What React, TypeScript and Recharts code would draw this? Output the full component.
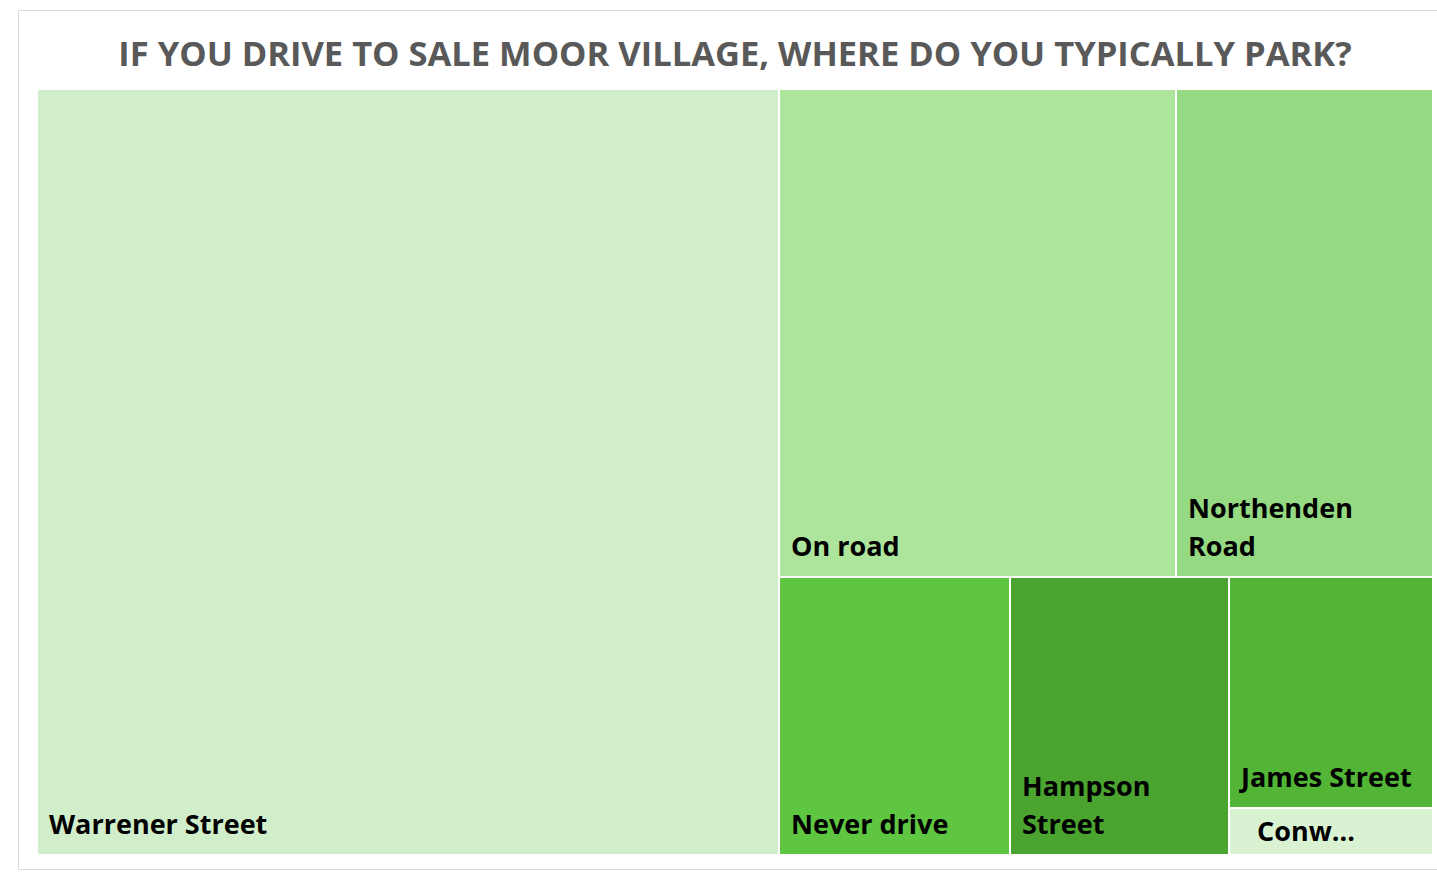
import { Treemap } from "recharts";

// where people park, share of responses
const categories = [
  "Warrener Street",
  "On road",
  "Northenden Road",
  "Never drive",
  "Hampson Street",
  "James Street",
  "Conw...",
];
const shares = [53.1, 18.1, 11.7, 6.0, 5.7, 4.4, 0.9];
const palette = [
  "#d0eeca",
  "#ade59c",
  "#95da82",
  "#5ec641",
  "#4aa42f",
  "#52b535",
  "#d9f2d2",
];

const data = categories.map((name, i) => ({ name, value: shares[i] }));

const LABEL_SIZE = 27;
const LABEL_FONT = `bold ${LABEL_SIZE}px "Open Sans"`;
let ctx: CanvasRenderingContext2D | null = null;

function measure(text: string) {
  if (!ctx) ctx = document.createElement("canvas").getContext("2d");
  if (!ctx) return text.length * LABEL_SIZE * 0.6;
  ctx.font = LABEL_FONT;
  return ctx.measureText(text).width;
}

function wrap(text: string, maxWidth: number) {
  const lines: string[] = [];
  let cur = "";
  text.split(" ").forEach((w) => {
    const next = cur ? cur + " " + w : w;
    if (cur && measure(next) > maxWidth) {
      lines.push(cur);
      cur = w;
    } else {
      cur = next;
    }
  });
  if (cur) lines.push(cur);
  return lines;
}

function Cell(props: any) {
  const { x, y, width, height, depth, index, name } = props;
  if (depth !== 1) return null;
  const lines = wrap(name, width - 24);
  // excel pushes the label in a bit further on very short tiles
  const short = height < 60;
  const base = y + height - (short ? 14 : 21);
  const indent = short ? 28 : 12;
  return (
    <g>
      <rect
        x={x}
        y={y}
        width={width}
        height={height}
        fill={palette[index]}
        stroke="#fff"
        strokeWidth={2}
      />
      {lines.map((line, i) => (
        <text
          key={i}
          x={x + indent}
          y={base - (lines.length - 1 - i) * 38}
          fontFamily="Open Sans"
          fontWeight={700}
          fontSize={LABEL_SIZE}
          fill="#000"
        >
          {line}
        </text>
      ))}
    </g>
  );
}

export default function App() {
  return (
    <div
      style={{
        position: "fixed",
        left: 0,
        top: 0,
        width: 1437,
        height: 872,
        background: "#fff",
        overflow: "hidden",
        fontFamily: "Open Sans",
      }}
    >
      <div
        style={{
          position: "absolute",
          left: 18,
          top: 10,
          width: 1440,
          height: 858,
          border: "1px solid #d9d9d9",
        }}
      />
      <div
        style={{
          position: "absolute",
          left: 35,
          width: 1400,
          top: 27,
          textAlign: "center",
          fontSize: 34.5,
          fontWeight: 700,
          color: "#595959",
          lineHeight: "52px",
          whiteSpace: "nowrap",
        }}
      >
        IF YOU DRIVE TO SALE MOOR VILLAGE, WHERE DO YOU TYPICALLY PARK?
      </div>
      <div style={{ position: "absolute", left: 37, top: 89 }}>
        <Treemap
          width={1396}
          height={766}
          data={data}
          dataKey="value"
          nameKey="name"
          aspectRatio={1}
          isAnimationActive={false}
          content={<Cell />}
        />
      </div>
    </div>
  );
}
